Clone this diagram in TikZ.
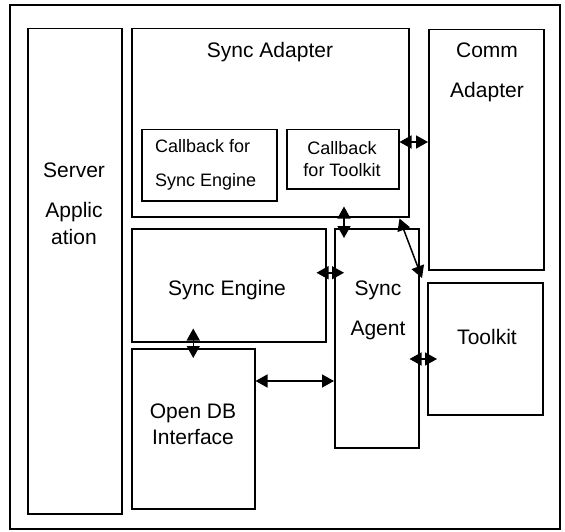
\documentclass[tikz,border=0pt]{standalone}
\usepackage{fontspec}
\setmainfont{Liberation Sans}
\usetikzlibrary{arrows.meta,calc}

\begin{document}
\begin{tikzpicture}[x=1pt, y=-1pt,
  box/.style={draw, line width=1.5pt, inner sep=0pt, anchor=north west},
  lbl/.style={font=\fontsize{21}{25}\selectfont, align=center, inner sep=0pt},
  smalllbl/.style={font=\fontsize{18}{22}\selectfont, inner sep=0pt},
  link/.style={line width=1.5pt, {Triangle[length=12pt,width=13pt]}-{Triangle[length=12pt,width=13pt]}}]
  \useasboundingbox (0,0) rectangle (565,532);
  % Outer frame
  \draw[line width=2pt] (10,5) rectangle (560,529);

  % Component boxes (top left corner, size)
  \node[box, minimum width=94pt, minimum height=485pt] (server) at (27,28) {}; % Server Application
  \node[box, minimum width=277pt, minimum height=188pt] (sadapter) at (131,28) {}; % Sync Adapter
  \node[box, minimum width=135pt, minimum height=71pt] (cbengine) at (141,129) {}; % Callback for Sync Engine
  \node[box, minimum width=112pt, minimum height=59pt] (cbtoolkit) at (286,129) {}; % Callback for Toolkit
  \node[box, minimum width=115pt, minimum height=240pt] (comm) at (428,29) {}; % Comm Adapter
  \node[box, minimum width=194pt, minimum height=113pt] (engine) at (131,228) {}; % Sync Engine
  \node[box, minimum width=84pt, minimum height=219pt] (agent) at (334,228) {}; % Sync Agent
  \node[box, minimum width=115pt, minimum height=132pt] (toolkit) at (427,282) {}; % Toolkit
  \node[box, minimum width=123pt, minimum height=160pt] (opendb) at (131,348) {}; % Open DB Interface

  % Labels
  \node[lbl] (serverlbl) at (74,204) {Server\\[15pt]Applic\\[2pt]ation};
  \node[lbl] (sadapterlbl) at (270,52) {Sync Adapter};
  \node[smalllbl, align=left, anchor=west] (cbenginelbl) at (155,165) {Callback for\\[12pt]Sync Engine};
  \node[smalllbl, align=center] (cbtoolkitlbl) at (342,159) {Callback\\for Toolkit};
  \node[lbl] (commlbl) at (487,72) {Comm\\[15pt]Adapter};
  \node[lbl] (enginelbl) at (227,290) {Sync Engine};
  \node[lbl] (agentlbl) at (378,310) {Sync\\[15pt]Agent};
  \node[lbl] (toolkitlbl) at (487,337) {Toolkit};
  \node[lbl] (opendblbl) at (193,424) {Open DB\\[1pt]Interface};

  % Two-way links
  \draw[link] (cbtoolkit.east |- 0,142) -- (comm.west |- 0,142);
  \draw[link] ($(agent.north west |- sadapter.south)+(10,-11)$) -- ($(agent.north west)+(10,10)$);
  \draw[link] ($(sadapter.south east)+(-10,1)$) -- ($(toolkit.north west)+(-5,-4)$);
  \draw[link] ($(engine.east)+(-10,-12.5)$) -- ($(agent.west |- engine.east)+(10,-12.5)$);
  \draw[link] ($(engine.south -| opendb.north)+(0,-14)$) -- ($(opendb.north)+(0,10)$);
  \draw[link] (opendb.east |- 0,381) -- (agent.west |- 0,381);
  \draw[link] ($(agent.east |- 0,359)+(-10,0)$) -- ($(toolkit.west |- 0,359)+(10,0)$);
\end{tikzpicture}
\end{document}
